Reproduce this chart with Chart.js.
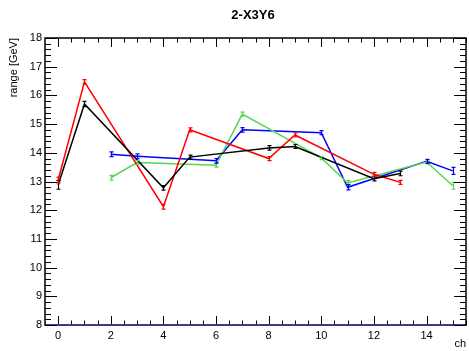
<!DOCTYPE html>
<html>
<head>
<meta charset="utf-8">
<script src="https://cdn.jsdelivr.net/npm/chart.js@4.4.0/dist/chart.umd.min.js"></script>
<style>
  html, body { margin: 0; padding: 0; background: #fff; }
  #wrap { width: 469px; height: 351px; }
</style>
</head>
<body>
<div id="wrap"><canvas id="plot" width="469" height="351"></canvas></div>
<script>
// channel numbers for the two interleaved groups
const chA = [0, 1, 4, 5, 8, 9, 12, 13];
const chB = [2, 3, 6, 7, 10, 11, 14, 15];

const redVals   = [13.05, 16.47, 12.12, 14.80, 13.80, 14.62, 13.25, 12.97];
const redErr    = [0.10, 0.08, 0.08, 0.07, 0.07, 0.07, 0.07, 0.07];
const blackVals = [12.88, 15.70, 12.78, 13.85, 14.17, 14.22, 13.10, 13.28];
const blackErr  = [0.15, 0.09, 0.08, 0.07, 0.08, 0.07, 0.08, 0.08];
const blueVals  = [13.95, 13.88, 13.72, 14.80, 14.70, 12.80, 13.70, 13.37];
const blueErr   = [0.08, 0.08, 0.08, 0.08, 0.07, 0.09, 0.07, 0.12];
const greenVals = [13.13, 13.66, 13.57, 15.35, 13.82, 12.95, 13.68, 12.85];
const greenErr  = [0.08, 0.07, 0.07, 0.07, 0.06, 0.08, 0.07, 0.12];

const yTicks = [8, 9, 10, 11, 12, 13, 14, 15, 16, 17, 18];
const xTicks = [0, 2, 4, 6, 8, 10, 12, 14];

const FONT = 'Liberation Sans, Arial, sans-serif';

function pts(xs, ys) {
  return xs.map((x, i) => ({ x: x, y: ys[i] }));
}

function series(label, color, xs, ys, errs) {
  return {
    label,
    data: pts(xs, ys),
    errs,
    borderColor: color,
    backgroundColor: color,
    borderWidth: 1.5,
    pointRadius: 0,
    tension: 0,
    fill: false
  };
}

// vertical error bars with small end caps
const errorBars = {
  id: 'errorBars',
  afterDatasetsDraw(chart) {
    const { ctx, scales: { x, y } } = chart;
    chart.data.datasets.forEach((ds) => {
      ctx.save();
      ctx.strokeStyle = ds.borderColor;
      ctx.lineWidth = 1.2;
      ds.data.forEach((p, i) => {
        const px = Math.round(x.getPixelForValue(p.x)) + 0.5;
        const y0 = y.getPixelForValue(p.y - ds.errs[i]);
        const y1 = y.getPixelForValue(p.y + ds.errs[i]);
        ctx.beginPath();
        ctx.moveTo(px, y0); ctx.lineTo(px, y1);
        ctx.moveTo(px - 2, y0); ctx.lineTo(px + 2, y0);
        ctx.moveTo(px - 2, y1); ctx.lineTo(px + 2, y1);
        ctx.stroke();
      });
      ctx.restore();
    });
  }
};

// frame, inward ticks on all four sides, labels and titles
const frame = {
  id: 'frame',
  afterDraw(chart) {
    const { ctx, chartArea: a, scales: { x, y } } = chart;
    ctx.save();
    ctx.strokeStyle = '#000';
    ctx.lineWidth = 1;

    ctx.beginPath();
    // y ticks: majors every 1, minors every 0.2
    for (let v = 8; v <= 18.001; v += 0.2) {
      const py = Math.round(y.getPixelForValue(v)) + 0.5;
      const major = Math.abs(v - Math.round(v)) < 1e-6;
      const len = major ? 12 : 6;
      ctx.moveTo(a.left, py); ctx.lineTo(a.left + len, py);
      ctx.moveTo(a.right, py); ctx.lineTo(a.right - len, py);
    }
    // x ticks: majors every 2, minors every 0.5
    for (let v = 0; v <= 15.5; v += 0.5) {
      const px = Math.round(x.getPixelForValue(v)) + 0.5;
      const major = v % 2 === 0;
      const len = major ? 9 : 4.5;
      ctx.moveTo(px, a.bottom); ctx.lineTo(px, a.bottom - len);
      ctx.moveTo(px, a.top); ctx.lineTo(px, a.top + len);
    }
    ctx.stroke();

    ctx.lineWidth = 1.5;
    ctx.strokeRect(a.left, a.top, a.right - a.left, a.bottom - a.top);

    // baseline along the bottom edge
    ctx.strokeStyle = '#3a3aa8';
    ctx.lineWidth = 1;
    ctx.beginPath();
    ctx.moveTo(a.left + 1, a.bottom - 0.5);
    ctx.lineTo(a.right - 1, a.bottom - 0.5);
    ctx.stroke();

    ctx.fillStyle = '#000';
    ctx.font = '11px ' + FONT;
    ctx.textAlign = 'right';
    ctx.textBaseline = 'middle';
    yTicks.forEach((v) => ctx.fillText(String(v), a.left - 3, y.getPixelForValue(v)));

    ctx.textAlign = 'center';
    ctx.textBaseline = 'top';
    xTicks.forEach((v) => ctx.fillText(String(v), x.getPixelForValue(v), a.bottom + 5));

    ctx.textAlign = 'right';
    ctx.fillText('ch', a.right, a.bottom + 13);

    ctx.save();
    ctx.translate(14, a.top);
    ctx.rotate(-Math.PI / 2);
    ctx.textAlign = 'right';
    ctx.textBaseline = 'middle';
    ctx.fillText('range [GeV]', 0, 0);
    ctx.restore();

    ctx.font = 'bold 13px ' + FONT;
    ctx.textAlign = 'center';
    ctx.textBaseline = 'middle';
    ctx.fillText('2-X3Y6', 253, 15);
    ctx.restore();
  }
};

new Chart(document.getElementById('plot'), {
  type: 'line',
  data: {
    datasets: [
      series('black', '#000000', chA, blackVals, blackErr),
      series('red', '#ff0000', chA, redVals, redErr),
      series('green', '#59d454', chB, greenVals, greenErr),
      series('blue', '#0000ff', chB, blueVals, blueErr)
    ]
  },
  options: {
    responsive: false,
    animation: false,
    layout: { padding: { left: 45, right: 3, top: 38, bottom: 26 } },
    scales: {
      x: { type: 'linear', min: -0.5, max: 15.5, display: false },
      y: { type: 'linear', min: 8, max: 18, display: false }
    },
    plugins: { legend: { display: false }, tooltip: { enabled: false } }
  },
  plugins: [errorBars, frame]
});
</script>
</body>
</html>
